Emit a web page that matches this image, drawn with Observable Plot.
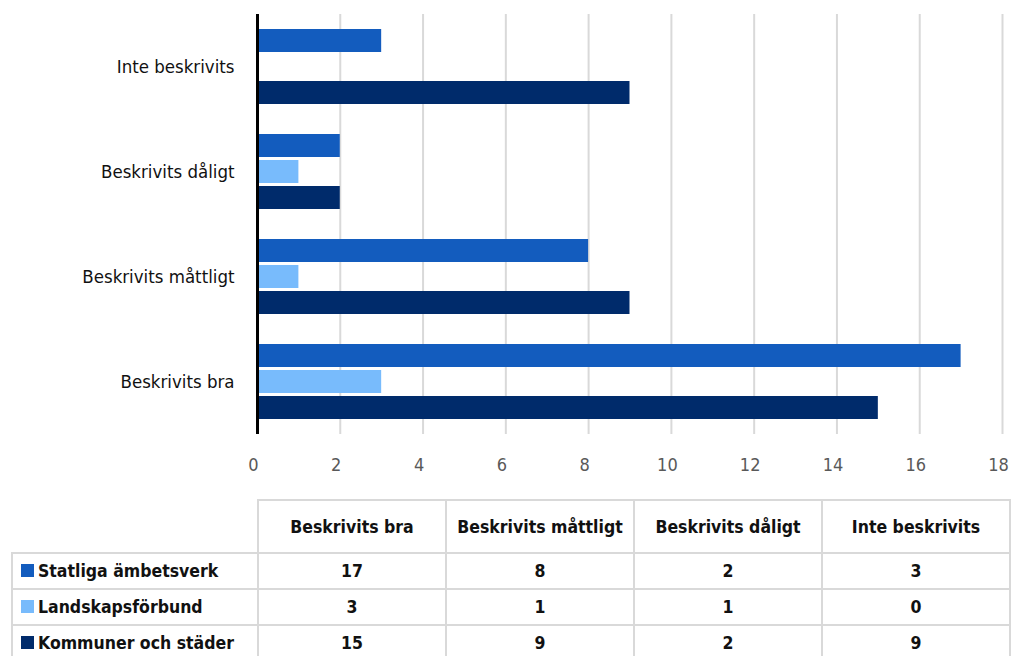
<!DOCTYPE html>
<html>
<head>
<meta charset="utf-8">
<script src="https://cdn.jsdelivr.net/npm/d3@7"></script>
<script src="https://cdn.jsdelivr.net/npm/@observablehq/plot@0.6"></script>
<style>
  body { margin: 0; background: #fff; font-family: 'DejaVu Sans Condensed', 'DejaVu Sans', sans-serif; font-stretch: condensed; }
  #wrap { position: relative; width: 1011px; height: 656px; overflow: hidden; }
  #chart { position: absolute; left: 0; top: 0; }
  #chart svg { font-stretch: condensed; }
  table.dt { position: absolute; left: 11px; top: 499px; width: 999px; border-collapse: collapse; table-layout: fixed; font-weight: bold; font-size: 17.5px; color: #111; font-stretch: condensed; }
  table.dt td, table.dt th { border: 2px solid #d9d9d9; text-align: center; padding: 0; white-space: nowrap; overflow: hidden; }
  table.dt th { height: 51px; font-weight: bold; }
  table.dt td { height: 34px; }
  table.dt td.lab { text-align: left; padding-left: 8px; }
  table.dt th.blank { border-top: none; border-left: none; }
  .sw { display: inline-block; width: 13px; height: 13px; margin-right: 4px; vertical-align: 0px; }
</style>
</head>
<body>
<div id="wrap">
  <div id="chart"></div>
  <table class="dt" id="tbl"></table>
</div>
<script>
const categories = ["Inte beskrivits", "Beskrivits dåligt", "Beskrivits måttligt", "Beskrivits bra"];
const series = ["Statliga ämbetsverk", "Landskapsförbund", "Kommuner och städer"];
const statliga = [3, 2, 8, 17];
const landskap = [0, 1, 1, 3];
const kommuner = [9, 2, 9, 15];
const colors = ["#135cbe", "#78bbfc", "#002b6b"];
const xTicks = [0, 2, 4, 6, 8, 10, 12, 14, 16, 18];

const seriesValues = [statliga, landskap, kommuner];
const data = [];
categories.forEach((c, i) => {
  series.forEach((s, j) => data.push({category: c, series: s, value: seriesValues[j][i]}));
});

const font = "'DejaVu Sans Condensed', 'DejaVu Sans', sans-serif";

const chart = Plot.plot({
  width: 1011,
  height: 490,
  marginLeft: 257,
  marginRight: 9,
  marginTop: 13,
  marginBottom: 55,
  style: {fontFamily: font, background: "white"},
  x: {domain: [0, 18]},
  fy: {domain: categories, padding: 0, label: null},
  y: {domain: series, paddingInner: 0.13, paddingOuter: 0.52, axis: null},
  color: {domain: series, range: colors},
  marks: [
    Plot.ruleX(xTicks.filter(d => d > 0), {stroke: "#d9d9d9", strokeWidth: 2}),
    Plot.barX(data, {x: "value", y: "series", fy: "category", fill: "series"}),
    Plot.ruleX([0], {stroke: "#000", strokeWidth: 3}),
    Plot.axisX({ticks: xTicks, tickSize: 0, tickPadding: 24, dx: -4, fontSize: 18, color: "#595959", label: null}),
    Plot.axisFy({anchor: "left", tickSize: 0, tickPadding: 23, fontSize: 18.5, color: "#111", label: null})
  ]
});
document.getElementById("chart").appendChild(chart);

// data table
const tableCols = categories.slice().reverse();
const tbl = d3.select("#tbl");
const cg = tbl.append("colgroup");
cg.append("col").style("width", "246px");
tableCols.forEach(() => cg.append("col").style("width", "188px"));
const hr = tbl.append("tr");
hr.append("th").attr("class", "blank");
tableCols.forEach(c => hr.append("th").text(c));
series.forEach((s, j) => {
  const tr = tbl.append("tr");
  const td = tr.append("td").attr("class", "lab");
  td.append("span").attr("class", "sw").style("background", colors[j]);
  td.append("span").text(s);
  tableCols.forEach(c => {
    const i = categories.indexOf(c);
    tr.append("td").text(seriesValues[j][i]);
  });
});
</script>
</body>
</html>
